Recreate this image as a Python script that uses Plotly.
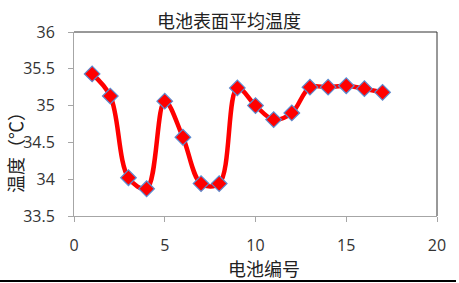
import plotly.graph_objects as go

battery_no = list(range(1, 18))
temperature = [35.43, 35.13, 34.02, 33.87, 35.06, 34.57, 33.94, 33.94, 35.24,
               35.00, 34.81, 34.90, 35.25, 35.25, 35.27, 35.23, 35.18]
x_ticks = [0, 5, 10, 15, 20]
y_ticks = [33.5, 34, 34.5, 35, 35.5, 36]

fig = go.Figure()
fig.add_trace(go.Scatter(
    x=battery_no, y=temperature, mode="lines+markers",
    line=dict(color="#ff0000", width=4.5, shape="spline", smoothing=1.0),
    marker=dict(symbol="diamond", size=12, color="#ff0000",
                line=dict(color="#5b8bd0", width=1.2)),
    showlegend=False,
))

tick_font = dict(family="Open Sans, Noto Sans CJK SC", size=16, color="#333333")
cjk = dict(family="Noto Sans CJK SC", size=18, color="#222222")
W, H = 459, 283
L, R, T, B = 74, 22, 32, 67
pw, ph = W - L - R, H - T - B

fig.update_layout(
    width=W, height=H,
    margin=dict(l=L, r=R, t=T, b=B),
    paper_bgcolor="white", plot_bgcolor="white",
    xaxis=dict(range=[0, 20], tickvals=x_ticks, showgrid=False, zeroline=False,
               showline=True, linecolor="#a6a6a6", linewidth=1, ticks="outside",
               ticklen=5, tickcolor="#a6a6a6", tickfont=tick_font,
               ticklabelstandoff=10),
    yaxis=dict(range=[33.5, 36], tickvals=y_ticks, showgrid=False, zeroline=False,
               showline=True, linecolor="#a6a6a6", linewidth=1, ticks="outside",
               ticklen=5, tickcolor="#a6a6a6", tickfont=tick_font,
               ticklabelstandoff=10),
)
def px_x(p):
    return (p - L) / pw
def px_y(p):
    return (H - B - p) / ph

fig.add_annotation(text="电池表面平均温度", xref="paper", yref="paper",
                   x=px_x(229), y=px_y(20), xanchor="center", yanchor="middle",
                   showarrow=False, font=cjk)
fig.add_annotation(text="电池编号", xref="paper", yref="paper",
                   x=px_x(264), y=px_y(268), xanchor="center", yanchor="middle",
                   showarrow=False, font=cjk)
fig.add_annotation(text="温度（℃）", xref="paper", yref="paper",
                   x=px_x(15), y=px_y(148), xanchor="center", yanchor="middle",
                   textangle=-90, showarrow=False, font=cjk)
# top and right frame
fig.add_shape(type="line", xref="paper", yref="paper", x0=0, x1=1, y0=1, y1=1,
              line=dict(color="#333333", width=1))
fig.add_shape(type="line", xref="paper", yref="paper", x0=1, x1=1, y0=0, y1=1,
              line=dict(color="#333333", width=1))
# bottom border of the chart area
fig.add_shape(type="line", xref="paper", yref="paper",
              x0=px_x(0), x1=px_x(456), y0=px_y(281), y1=px_y(281),
              line=dict(color="#000000", width=2))

fig.write_html("out.html")
